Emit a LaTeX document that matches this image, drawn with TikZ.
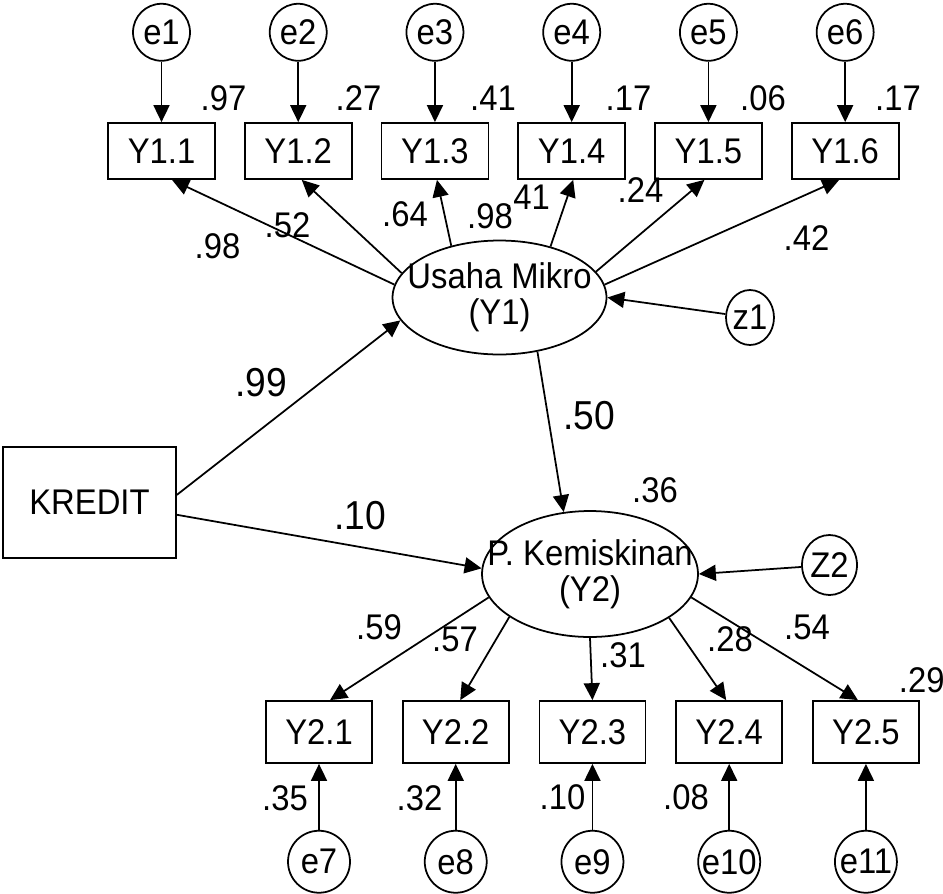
\documentclass[tikz,border=0pt]{standalone}
\usepackage{fontspec}
\setmainfont{Liberation Sans}[FakeStretch=0.92]
\usetikzlibrary{arrows.meta,positioning,shapes.geometric}

\newcommand{\squeeze}[1]{\makebox[0pt]{#1}}

\begin{document}
\begin{tikzpicture}[x=0.02cm, y=-0.02cm,
  font=\fontsize{20.3}{20.5}\selectfont, line width=1pt,
  obs/.style={draw, minimum width=2.14cm, minimum height=1.12cm, inner sep=0pt},
  obsb/.style={obs, minimum width=2.12cm, minimum height=1.24cm},
  lat/.style={draw, ellipse, inner sep=0pt, align=center},
  err/.style={draw, circle, minimum size=1.14cm, inner sep=0pt},
  errb/.style={err, minimum size=1.24cm},
  coef/.style={inner sep=0pt},
  bigcoef/.style={coef, font=\fontsize{23}{25}\selectfont},
  >={Triangle[length=3.4mm, width=3.2mm]}]
  \useasboundingbox (0,0) rectangle (943,893);

  % latent variables and the exogenous box
  \node[lat, minimum width=4.28cm, minimum height=2.28cm] (y1) at (499.5,297.5)
      {\squeeze{Usaha Mikro}\\ \squeeze{(Y1)}};
  \node[lat, minimum width=4.32cm, minimum height=2.52cm] (y2) at (590,574)
      {\squeeze{P. Kemiskinan}\\ \squeeze{(Y2)}};
  \node[draw, minimum width=3.46cm, minimum height=2.22cm, inner sep=0pt] (kredit) at (89.5,502.5) {KREDIT};
  \node[lat, minimum width=0.96cm, minimum height=1.10cm] (z1) at (750,317.5) {\squeeze{z1}};
  \node[lat, minimum width=1.10cm, minimum height=1.20cm] (z2) at (829.5,565) {\squeeze{Z2}};

  % indicators of Y1
  \node[obs] (y11) at (161.5,151) {Y1.1};
  \node[obs, right=0.56cm of y11] (y12) {Y1.2};
  \node[obs, right=0.56cm of y12] (y13) {Y1.3};
  \node[obs, right=0.56cm of y13] (y14) {Y1.4};
  \node[obs, right=0.56cm of y14] (y15) {Y1.5};
  \node[obs, right=0.56cm of y15] (y16) {Y1.6};
  \node[err, above=1.21cm of y11] (e1) {e1};
  \node[err, above=1.21cm of y12] (e2) {e2};
  \node[err, above=1.21cm of y13] (e3) {e3};
  \node[err, above=1.21cm of y14] (e4) {e4};
  \node[err, above=1.21cm of y15] (e5) {e5};
  \node[err, above=1.21cm of y16] (e6) {e6};

  % indicators of Y2
  \node[obsb] (y21) at (319,732) {Y2.1};
  \node[obsb, right=0.58cm of y21] (y22) {Y2.2};
  \node[obsb, right=0.58cm of y22] (y23) {Y2.3};
  \node[obsb, right=0.58cm of y23] (y24) {Y2.4};
  \node[obsb, right=0.58cm of y24] (y25) {Y2.5};
  \node[errb, below=1.32cm of y21] (e7) {e7};
  \node[errb, below=1.32cm of y22] (e8) {e8};
  \node[errb, below=1.32cm of y23] (e9) {e9};
  \node[errb, below=1.32cm of y24] (e10) {e10};
  \node[errb, below=1.32cm of y25] (e11) {e11};

  % structural paths
  \draw[->] (kredit.5) -- (y1.193);
  \draw[->] (kredit.-8) -- (y2.177);
  \draw[->] (y1.-55) -- (y2.113);
  \draw[->] (z1) -- (y1.east);
  \draw[->] (z2) -- (y2.east);

  % measurement paths
  \draw[->] (y1.173) -- ([xshift=2.1mm]y11.south);
  \draw[->] (y1.166) -- ([xshift=0.7mm]y12.south);
  \draw[->] (y1.133) -- ([xshift=0.4mm]y13.south);
  \draw[->] (y1.45) -- ([xshift=0.3mm]y14.south);
  \draw[->] (y1.15) -- ([xshift=-0.8mm]y15.south);
  \draw[->] (y1.7) -- ([xshift=-1.2mm]y16.south);
  \draw[->] (y2.193) -- ([xshift=2.2mm]y21.north);
  \draw[->] (y2.208) -- ([xshift=0.9mm]y22.north);
  \draw[->] (y2.270) -- (y23.north);
  \draw[->] (y2.331) -- ([xshift=-0.6mm]y24.north);
  \draw[->] (y2.347) -- ([xshift=-1.6mm]y25.north);
  \draw[->] (e1) -- (y11);
  \draw[->] (e2) -- (y12);
  \draw[->] (e3) -- (y13);
  \draw[->] (e4) -- (y14);
  \draw[->] (e5) -- (y15);
  \draw[->] (e6) -- (y16);
  \draw[->] (e7) -- (y21);
  \draw[->] (e8) -- (y22);
  \draw[->] (e9) -- (y23);
  \draw[->] (e10) -- (y24);
  \draw[->] (e11) -- (y25);

  % estimates
  \node[coef] (r11) at (223.5,98) {.97};
  \node[coef] (r12) at (358.5,98) {.27};
  \node[coef] (r13) at (493,98) {.41};
  \node[coef] (r14) at (628.5,98) {.17};
  \node[coef] (r15) at (763,98) {.06};
  \node[coef] (r16) at (898,98) {.17};
  \node[coef] (l11) at (217.5,246.5) {.98};
  \node[coef] (l12) at (287.5,225) {.52};
  \node[coef] (l13) at (405,214.5) {.64};
  \node[coef] (l14) at (527,197.5) {.41};
  \node[coef] (l14b) at (490,216) {.98};
  \node[coef] (l15) at (640.5,190.5) {.24};
  \node[coef] (l16) at (806.5,238.5) {.42};
  \node[bigcoef] (bk1) at (261,382.5) {.99};
  \node[bigcoef] (bk2) at (360,516) {.10};
  \node[bigcoef] (b12) at (589,416) {.50};
  \node[coef] (r2) at (655,490.5) {.36};
  \node[coef] (l21) at (379,627) {.59};
  \node[coef] (l22) at (455,639.5) {.57};
  \node[coef] (l23) at (623,655.5) {.31};
  \node[coef] (l24) at (730,639.5) {.28};
  \node[coef] (l25) at (807,627) {.54};
  \node[coef, anchor=west] (r25) at (898,680) {.29};
  \node[coef] (r21) at (285,798.5) {.35};
  \node[coef] (r22) at (419.5,798.5) {.32};
  \node[coef] (r23) at (562.5,797) {.10};
  \node[coef] (r24) at (686,797) {.08};
\end{tikzpicture}
\end{document}
